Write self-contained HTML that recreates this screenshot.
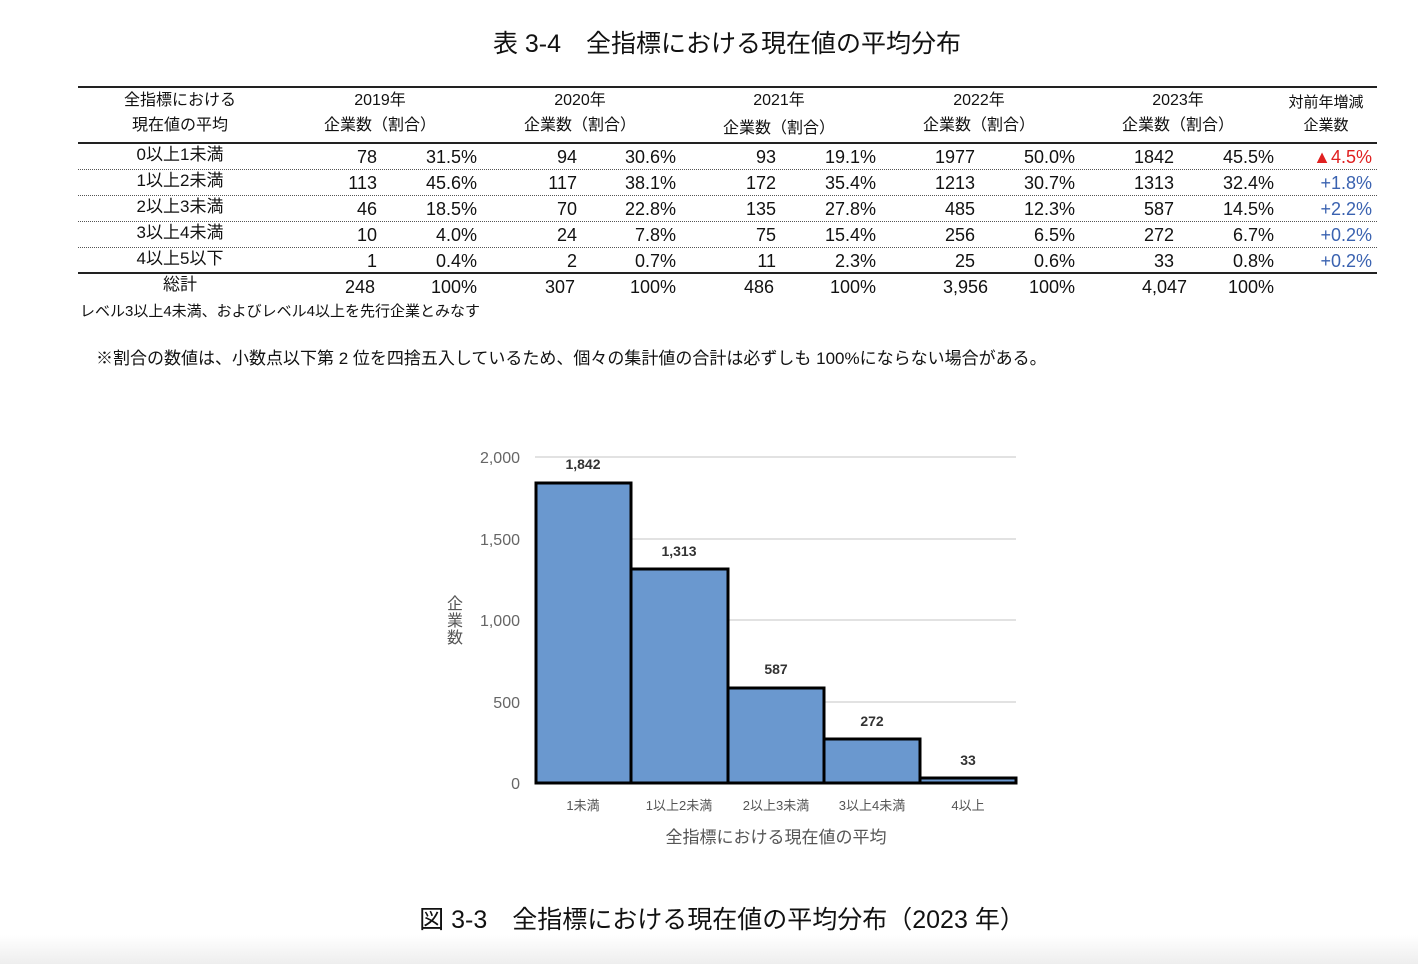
<!DOCTYPE html>
<html><head><meta charset="utf-8"><style>
body{margin:0;width:1418px;height:964px;background:#fff;position:relative;overflow:hidden;font-family:"Liberation Sans","Noto Sans CJK JP",sans-serif;color:#111}
.t{position:absolute;white-space:nowrap;line-height:1.15}
.r{position:absolute;white-space:nowrap;text-align:right;line-height:1.15}
.c{position:absolute;white-space:nowrap;text-align:center;line-height:1.15}
.hl{position:absolute;left:78px;width:1299px}
</style></head><body>
<div class="c" style="left:0;width:1454px;top:30px;font-size:25px">表 3-4　全指標における現在値の平均分布</div>
<div class="hl" style="top:86px;border-top:2px solid #222"></div>
<div class="hl" style="top:142px;border-top:2px solid #222"></div>
<div class="hl" style="top:169px;border-top:1px dotted #555"></div>
<div class="hl" style="top:195px;border-top:1px dotted #555"></div>
<div class="hl" style="top:221px;border-top:1px dotted #555"></div>
<div class="hl" style="top:247px;border-top:1px dotted #555"></div>
<div class="hl" style="top:272px;border-top:2px solid #222"></div>
<div class="c" style="left:100px;width:160px;top:92px;font-size:16px">全指標における</div>
<div class="c" style="left:100px;width:160px;top:117px;font-size:16px">現在値の平均</div>
<div id="hdr"></div>
<div id="body"></div>
<div class="t" style="left:80px;top:303px;font-size:15px">レベル3以上4未満、およびレベル4以上を先行企業とみなす</div>
<div class="t" style="left:96px;top:349px;font-size:17px">※割合の数値は、小数点以下第 2 位を四捨五入しているため、個々の集計値の合計は必ずしも 100%にならない場合がある。</div>

<svg style="position:absolute;left:0;top:0" width="1418" height="964">
<g stroke="#d9d9d9" stroke-width="1.5">
<line x1="535" y1="457" x2="1016" y2="457"/><line x1="535" y1="539" x2="1016" y2="539"/><line x1="535" y1="620" x2="1016" y2="620"/><line x1="535" y1="702" x2="1016" y2="702"/></g>
<line x1="535" y1="783" x2="1016" y2="783" stroke="#bbb"/>
<g fill="#6a98cf" stroke="#000" stroke-width="3">
<rect x="536" y="483" width="95" height="300"/>
<rect x="631" y="569" width="97" height="214"/>
<rect x="728" y="688" width="96" height="95"/>
<rect x="824" y="739" width="96" height="44"/>
<rect x="920" y="778" width="96" height="5"/>
</g>
<g font-size="16" fill="#666" text-anchor="end" font-family="Liberation Sans">
<text x="520" y="463">2,000</text><text x="520" y="545">1,500</text><text x="520" y="626">1,000</text><text x="520" y="708">500</text><text x="520" y="789">0</text></g>
<g font-size="14" font-weight="bold" fill="#333" text-anchor="middle">
<text x="583" y="469">1,842</text><text x="679" y="556">1,313</text><text x="776" y="674">587</text><text x="872" y="726">272</text><text x="968" y="765">33</text></g>
<g font-size="13" fill="#555" text-anchor="middle" font-family="Liberation Sans, Noto Sans CJK JP, sans-serif">
<text x="583" y="810">1未満</text><text x="679" y="810">1以上2未満</text><text x="776" y="810">2以上3未満</text><text x="872" y="810">3以上4未満</text><text x="968" y="810">4以上</text></g>
<text x="776" y="843" font-size="17" fill="#555" text-anchor="middle" font-family="Liberation Sans, Noto Sans CJK JP, sans-serif">全指標における現在値の平均</text>
<g font-size="16" fill="#555" text-anchor="middle" font-family="Noto Sans CJK JP, sans-serif"><text x="455" y="609">企</text><text x="455" y="626">業</text><text x="455" y="643">数</text></g>
</svg>
<div class="c" style="left:0;width:1444px;top:906px;font-size:25px">図 3-3　全指標における現在値の平均分布（2023 年）</div>
<div style="position:absolute;left:0;top:935px;width:1418px;height:29px;background:linear-gradient(#fff,#eee)"></div>
<script>
var yrs=["2019年","2020年","2021年","2022年","2023年"],cx=[380,580,779,979,1178],h="";
for(var i=0;i<5;i++){h+='<div class="c" style="left:'+(cx[i]-80)+'px;width:160px;top:92px;font-size:16px">'+yrs[i]+'</div><div class="c" style="left:'+(cx[i]-80)+'px;width:160px;top:'+(i==2?120:117)+'px;font-size:16px">企業数（割合）</div>';}
h+='<div class="c" style="left:1276px;width:100px;top:94px;font-size:15px">対前年増減</div><div class="c" style="left:1276px;width:100px;top:117px;font-size:15px">企業数</div>';
document.getElementById("hdr").innerHTML=h;
var lab=["0以上1未満","1以上2未満","2以上3未満","3以上4未満","4以上5以下","総計"];
var d=[[78,"31.5%",94,"30.6%",93,"19.1%",1977,"50.0%",1842,"45.5%"],[113,"45.6%",117,"38.1%",172,"35.4%",1213,"30.7%",1313,"32.4%"],[46,"18.5%",70,"22.8%",135,"27.8%",485,"12.3%",587,"14.5%"],[10,"4.0%",24,"7.8%",75,"15.4%",256,"6.5%",272,"6.7%"],[1,"0.4%",2,"0.7%",11,"2.3%",25,"0.6%",33,"0.8%"]];
var df=['<span style="color:#e02020">▲4.5%</span>','<span style="color:#3a62b0">+1.8%</span>','<span style="color:#3a62b0">+2.2%</span>','<span style="color:#3a62b0">+0.2%</span>','<span style="color:#3a62b0">+0.2%</span>'];
var re=[377,477,577,676,776,876,975,1075,1174,1274],b="";
for(var r=0;r<6;r++){var y=146+r*26;
b+='<div class="c" style="left:100px;width:160px;top:'+(y-1)+'px;font-size:17px">'+lab[r]+'</div>';
if(r<5){for(var k=0;k<10;k++)b+='<div class="r" style="left:'+(re[k]-100)+'px;width:100px;top:'+(y+1)+'px;font-size:18px">'+d[r][k]+'</div>';
b+='<div class="r" style="left:1272px;width:100px;top:'+(y+1)+'px;font-size:18px">'+df[r]+'</div>';}
else{var tot=["248","100%","307","100%","486","100%","3,956","100%","4,047","100%"];
for(var k=0;k<10;k++){var l=k%2==0?(re[k]-32):re[k]-100;b+='<div class="'+(k%2==0?'t':'r')+'" style="left:'+l+'px;'+(k%2?'width:100px;':'')+'top:'+(y+1)+'px;font-size:18px">'+tot[k]+'</div>';}}}
document.getElementById("body").innerHTML=b;
</script>
</body></html>
